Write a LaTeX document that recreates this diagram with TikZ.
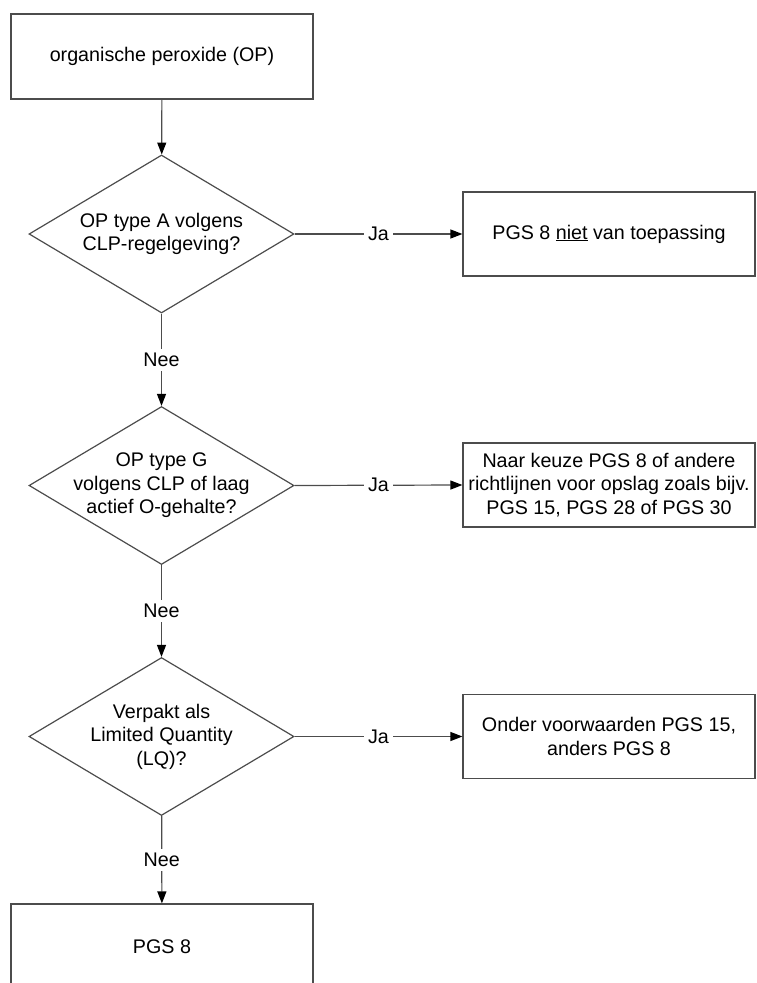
\documentclass[tikz,border=0pt]{standalone}
\usepackage{fontspec}
\setmainfont{Liberation Sans}
\usetikzlibrary{shapes.geometric,arrows.meta}

\begin{document}
\begin{tikzpicture}[x=1pt, y=1pt, font=\fontsize{19.7}{23.5}\selectfont,
    blok/.style={draw=black!70, line width=1.2pt, rectangle, minimum width=302pt, minimum height=85pt, inner sep=0pt, align=center},
    uitkomst/.style={blok, minimum width=292pt, minimum height=84pt},
    keuze/.style={draw=black!70, line width=1.2pt, diamond, aspect=1.68, minimum width=265pt, minimum height=158pt, inner sep=-15pt, align=center},
    pijl/.style={draw=black!70, line width=1.2pt, -{Triangle[length=12pt,width=9pt,color=black]}},
    tak/.style={fill=white, inner sep=4pt}]
    \useasboundingbox (0, 0) rectangle (756, -983);
    \clip (0, 0) rectangle (756, -983);
    \node[blok] (start) at (162, -56.5) {organische peroxide (OP)};
    \node[keuze] (typeA) at (161.5, -234) {OP type A volgens\\CLP-regelgeving?};
    \node[keuze] (typeG) at (161.5, -485.5) {OP type G\\volgens CLP of laag\\actief O-gehalte?};
    \node[keuze] (lq) at (161.5, -736.5) {Verpakt als\\Limited Quantity\\(LQ)?};
    \node[blok] (pgs) at (162, -946.5) {PGS 8};
    \node[uitkomst] (nvt) at (609, -234) {PGS 8 \underline{niet} van toepassing};
    \node[uitkomst] (keus) at (609, -485) {Naar keuze PGS 8 of andere\\richtlijnen voor opslag zoals bijv.\\PGS 15, PGS 28 of PGS 30};
    \node[uitkomst] (voorw) at (609, -736.5) {Onder voorwaarden PGS 15,\\anders PGS 8};
    \draw[pijl] (start) -- (typeA);
    \draw[pijl] (typeA) -- node[tak] {Nee} (typeG);
    \draw[pijl] (typeG) -- node[tak] {Nee} (lq);
    \draw[pijl] (lq) -- node[tak] {Nee} (pgs);
    \draw[pijl] (typeA.east) -- node[tak] {Ja} (nvt.west);
    \draw[pijl] (typeG.east) -- node[tak] {Ja} (keus.west);
    \draw[pijl] (lq.east) -- node[tak] {Ja} (voorw.west);
\end{tikzpicture}
\end{document}
